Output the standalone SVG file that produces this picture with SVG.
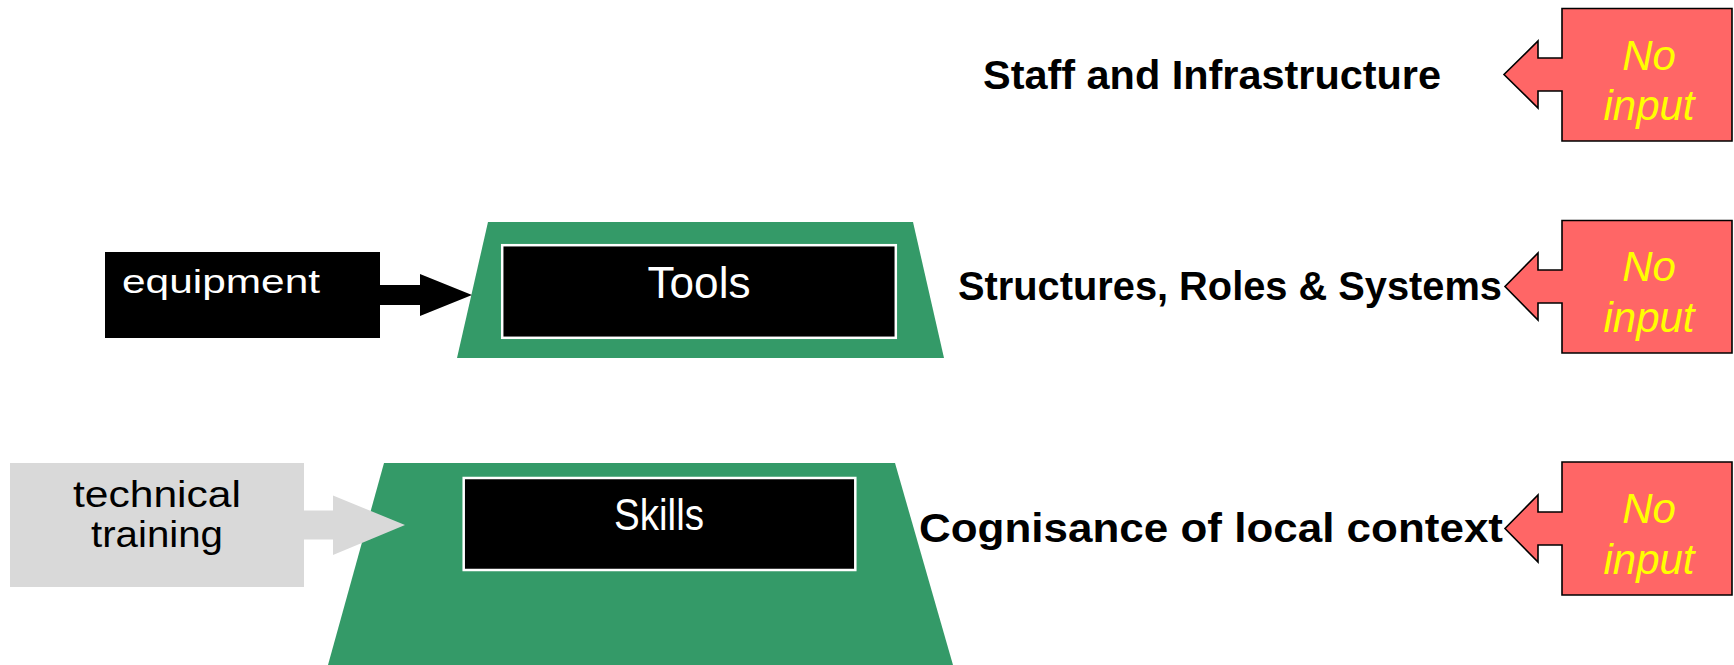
<svg xmlns="http://www.w3.org/2000/svg" width="1734" height="665" viewBox="0 0 1734 665">
<style>
.bg{fill:#ffffff}
.trap{fill:#349A68}
.inner{fill:#000000;stroke:#ffffff;stroke-width:2.5}
.light{font-family:"Liberation Sans",Arial,sans-serif;font-weight:normal}
.w{fill:#ffffff}
.k{fill:#000000}
.head{font-family:"Liberation Sans",Arial,sans-serif;font-weight:bold;font-size:41px;fill:#000000}
.callout{fill:#FF6666;stroke:#000000;stroke-width:1.6;stroke-linejoin:miter}
.ni{font-family:"Liberation Sans",Arial,sans-serif;font-style:italic;font-size:42px;fill:#FFFF00;text-anchor:middle}
.blk{fill:#000000}
.gry{fill:#D9D9D9}
</style>
<rect class="bg" x="0" y="0" width="1734" height="665"/>

<g id="node-tools">
  <polygon class="trap" points="488,222 913,222 944,358 457,358"/>
  <rect class="inner" x="502.2" y="245.2" width="393.6" height="92.6"/>
  <text class="light w" x="699" y="298" font-size="44" text-anchor="middle" textLength="103" lengthAdjust="spacingAndGlyphs">Tools</text>
</g>

<g id="node-skills">
  <polygon class="trap" points="384,463 895,463 953,665 328,665"/>
  <rect class="inner" x="463.7" y="478" width="391.6" height="92"/>
  <text class="light w" x="659" y="530" font-size="44" text-anchor="middle" textLength="90" lengthAdjust="spacingAndGlyphs">Skills</text>
</g>

<g id="node-equipment">
  <rect class="blk" x="105" y="252" width="275" height="86"/>
  <text class="light w" x="122" y="293" font-size="34" textLength="198" lengthAdjust="spacingAndGlyphs">equipment</text>
</g>

<g id="node-technical-training">
  <rect class="gry" x="10" y="463" width="294" height="124"/>
  <text class="light k" x="157" y="507" font-size="36" text-anchor="middle" textLength="168" lengthAdjust="spacingAndGlyphs">technical</text>
  <text class="light k" x="157" y="547" font-size="36" text-anchor="middle" textLength="132" lengthAdjust="spacingAndGlyphs">training</text>
</g>

<g id="connectors">
  <polygon id="arrow-equipment-tools" class="blk" points="379,285 420,285 420,274 472,295 420,316 420,305 379,305"/>
  <polygon id="arrow-training-skills" class="gry" points="303,510.5 333,510.5 333,495.5 405,525 333,555 333,539.5 303,539.5"/>
</g>

<g id="node-staff-label">
  <text class="head" x="983" y="89" textLength="458" lengthAdjust="spacingAndGlyphs">Staff and Infrastructure</text>
</g>
<g id="node-structures-label">
  <text class="head" x="958" y="300" textLength="544" lengthAdjust="spacingAndGlyphs">Structures, Roles &amp; Systems</text>
</g>
<g id="node-cognisance-label">
  <text class="head" x="919" y="542" textLength="584" lengthAdjust="spacingAndGlyphs">Cognisance of local context</text>
</g>

<g id="node-noinput-1">
  <path class="callout" d="M1562,8.5 H1732 V141 H1562 V91 H1538 V108 L1504,74.5 L1538,41 V58 H1562 Z"/>
  <text class="ni" x="1649" y="70">No</text>
  <text class="ni" x="1649" y="120">input</text>
</g>
<g id="node-noinput-2">
  <path class="callout" d="M1562,220.5 H1732 V353 H1562 V303 H1538 V320 L1505,286.5 L1538,253 V270 H1562 Z"/>
  <text class="ni" x="1649" y="281">No</text>
  <text class="ni" x="1649" y="332">input</text>
</g>
<g id="node-noinput-3">
  <path class="callout" d="M1562,462 H1732 V595 H1562 V545 H1538 V562 L1505,528.5 L1538,495 V512 H1562 Z"/>
  <text class="ni" x="1649" y="523">No</text>
  <text class="ni" x="1649" y="574">input</text>
</g>
</svg>
